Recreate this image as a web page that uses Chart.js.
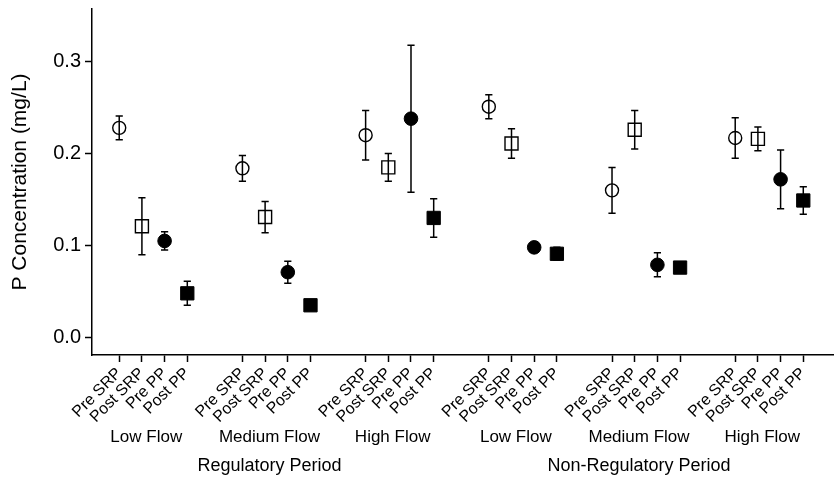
<!DOCTYPE html>
<html>
<head>
<meta charset="utf-8">
<script src="https://cdn.jsdelivr.net/npm/chart.js@4/dist/chart.umd.min.js"></script>
<style>
  html, body { margin: 0; padding: 0; background: #fff; }
  #wrap { width: 834px; height: 480px; }
</style>
</head>
<body>
<div id="wrap"><canvas id="c" width="834" height="480"></canvas></div>
<script>
// ---- data ----
const periods = ['Regulatory Period', 'Non-Regulatory Period'];
const flows = ['Low Flow', 'Medium Flow', 'High Flow', 'Low Flow', 'Medium Flow', 'High Flow'];
const measures = ['Pre SRP', 'Post SRP', 'Pre PP', 'Post PP'];
const yTicks = [0.0, 0.1, 0.2, 0.3];

const preSRP     = [0.228, 0.184, 0.220, 0.251, 0.160, 0.217];
const preSRPErr  = [0.013, 0.014, 0.027, 0.013, 0.025, 0.022];
const postSRP    = [0.121, 0.131, 0.185, 0.211, 0.226, 0.216];
const postSRPErr = [0.031, 0.017, 0.015, 0.016, 0.021, 0.013];
const prePP      = [0.105, 0.071, 0.238, 0.098, 0.079, 0.172];
const prePPErr   = [0.010, 0.012, 0.080, 0.004, 0.013, 0.032];
const postPP     = [0.048, 0.035, 0.130, 0.091, 0.076, 0.149];
const postPPErr  = [0.013, 0.004, 0.021, 0.007, 0.005, 0.015];

// ---- layout helpers (category positions on a numeric axis) ----
const GROUP_GAP = 5.43;
const pos = (g, m) => g * GROUP_GAP + m;
const tickPositions = [];
flows.forEach((f, g) => measures.forEach((m, i) => tickPositions.push(pos(g, i))));

function series(vals, errs, m) {
  return vals.map((v, g) => ({ x: pos(g, m), y: v, err: errs[g] }));
}

const FONT = "'Liberation Sans', Arial, sans-serif";

const datasets = [
  { label: measures[0], data: series(preSRP, preSRPErr, 0), pointStyle: 'circle', pointRadius: 6.5,
    backgroundColor: '#ffffff', borderColor: '#000', borderWidth: 1.4 },
  { label: measures[1], data: series(postSRP, postSRPErr, 1), pointStyle: 'rect', pointRadius: 9.2,
    backgroundColor: '#ffffff', borderColor: '#000', borderWidth: 1.4 },
  { label: measures[2], data: series(prePP, prePPErr, 2), pointStyle: 'circle', pointRadius: 6.8,
    backgroundColor: '#000', borderColor: '#000', borderWidth: 1 },
  { label: measures[3], data: series(postPP, postPPErr, 3), pointStyle: 'rect', pointRadius: 9.4,
    backgroundColor: '#000', borderColor: '#000', borderWidth: 1 },
];

const errorBars = {
  id: 'errorBars',
  afterDatasetsDraw(chart) {
    const { ctx, scales: { x, y } } = chart;
    ctx.save();
    ctx.strokeStyle = '#000';
    ctx.lineWidth = 1.5;
    chart.data.datasets.forEach(ds => {
      ds.data.forEach(p => {
        const px = x.getPixelForValue(p.x);
        const yt = y.getPixelForValue(p.y + p.err);
        const yb = y.getPixelForValue(p.y - p.err);
        ctx.beginPath();
        ctx.moveTo(px, yt); ctx.lineTo(px, yb);
        ctx.moveTo(px - 3.6, yt); ctx.lineTo(px + 3.6, yt);
        ctx.moveTo(px - 3.6, yb); ctx.lineTo(px + 3.6, yb);
        ctx.stroke();
      });
    });
    ctx.restore();
  }
};

const groupLabels = {
  id: 'groupLabels',
  afterDraw(chart) {
    const { ctx, chartArea, scales: { x } } = chart;
    ctx.save();
    ctx.fillStyle = '#000';
    ctx.textAlign = 'center';
    ctx.textBaseline = 'middle';
    ctx.font = '17px ' + FONT;
    const labelX = [];
    flows.forEach((f, g) => {
      const cx = x.getPixelForValue(pos(g, 1.5)) - 7;
      labelX.push(cx);
      ctx.fillText(f, cx, chartArea.bottom + 82);
    });
    ctx.font = '18px ' + FONT;
    periods.forEach((p, k) => {
      ctx.fillText(p, labelX[k * 3 + 1], chartArea.bottom + 111);
    });
    ctx.restore();
  }
};

new Chart(document.getElementById('c'), {
  type: 'scatter',
  data: { datasets },
  plugins: [errorBars, groupLabels],
  options: {
    responsive: false,
    animation: false,
    devicePixelRatio: 1,
    layout: { autoPadding: false, padding: { top: 9, right: 1, left: 0, bottom: 0 } },
    plugins: { legend: { display: false }, tooltip: { enabled: false } },
    scales: {
      x: {
        type: 'linear',
        min: -1.2,
        max: pos(5, 3) + 1.31,
        afterBuildTicks(scale) { scale.ticks = tickPositions.map(v => ({ value: v })); },
        afterFit(scale) { scale.height = 125; scale.paddingLeft = 0; scale.paddingRight = 0; },
        ticks: {
          autoSkip: false,
          minRotation: 45, maxRotation: 45,
          color: '#000',
          padding: 2,
          font: { family: FONT, size: 16 },
          callback: (v, i) => measures[i % 4]
        },
        grid: { drawOnChartArea: false, drawTicks: true, tickLength: 7, tickWidth: 1.5, tickColor: '#000' },
        border: { display: true, color: '#000', width: 1.5 }
      },
      y: {
        type: 'linear',
        min: -0.0191,
        max: 0.3573,
        afterBuildTicks(scale) { scale.ticks = yTicks.map(v => ({ value: v })); },
        afterFit(scale) { scale.width = 92; scale.paddingTop = 0; scale.paddingBottom = 0; },
        ticks: {
          color: '#000',
          padding: 4,
          font: { family: FONT, size: 20 },
          callback: v => Number(v).toFixed(1)
        },
        title: {
          display: true,
          text: 'P Concentration (mg/L)',
          color: '#000',
          padding: { top: 8, bottom: 6 },
          font: { family: FONT, size: 21 }
        },
        grid: { drawOnChartArea: false, drawTicks: true, tickLength: 7, tickWidth: 1.5, tickColor: '#000' },
        border: { display: true, color: '#000', width: 1.5 }
      }
    }
  }
});
</script>
</body>
</html>
